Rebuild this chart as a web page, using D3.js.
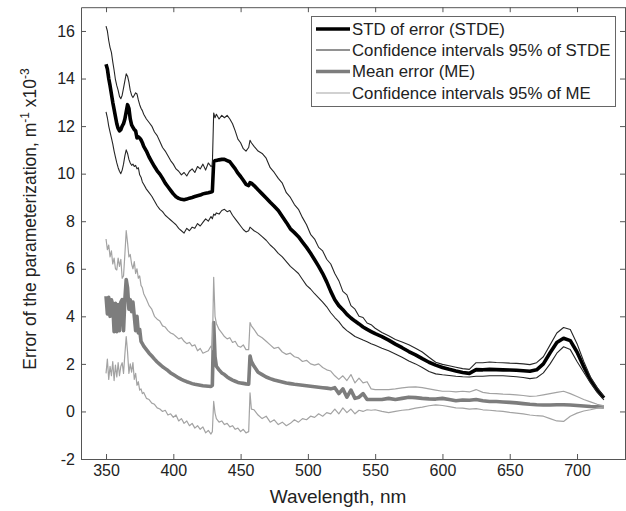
<!DOCTYPE html>
<html>
<head>
<meta charset="utf-8">
<script src="https://cdn.jsdelivr.net/npm/d3@7"></script>
<style>
  html, body { margin: 0; padding: 0; background: #fff; }
  svg { display: block; font-family: "Liberation Sans", Arial, sans-serif; }
</style>
</head>
<body>
<div id="chart"></div>
<script>
// wavelength grid, nm (finer where the curves jump)
const wavelength = [
  350,351,352,353,354,355,356,357,358,359,360,361,362,363,364,365,366,367,368,369,370,371,372,373,374,375,376,377,378,
  380,382,384,386,388,390,392,394,396,398,400,402,404,406,408,410,412,414,416,418,420,422,424,426,428,
  429,430,431,
  432,434,436,438,440,442,444,446,448,450,452,454,456,
  457,458,
  460,463,466,469,472,475,478,481,484,487,490,493,496,499,502,505,508,511,514,517,520,523,526,529,532,535,538,541,544,547,550,
  555,560,565,570,575,580,585,590,595,600,605,610,615,620,625,630,635,640,645,650,655,660,665,670,675,680,685,690,695,700,705,710,715,720
];

// STD of error (STDE)
const stde = [
  14.6,14.4,14.0,13.7,13.35,13.0,12.7,12.4,12.1,11.9,11.8,11.85,12.0,12.1,12.3,12.6,12.9,12.75,12.3,12.05,11.95,11.85,11.8,11.5,11.55,11.5,11.42,11.3,11.15,
  10.95,10.7,10.5,10.3,10.12,9.98,9.8,9.6,9.45,9.3,9.15,9.03,8.96,8.92,8.9,8.93,8.97,9.0,9.04,9.07,9.1,9.15,9.18,9.2,9.23,
  9.25,10.5,10.55,
  10.55,10.58,10.6,10.6,10.55,10.5,10.35,10.2,10.02,9.88,9.72,9.55,9.5,
  9.62,9.6,
  9.5,9.32,9.15,8.98,8.8,8.63,8.45,8.2,7.95,7.68,7.52,7.35,7.12,6.9,6.65,6.38,6.1,5.8,5.45,5.05,4.7,4.45,4.28,4.08,3.93,3.8,3.68,3.55,3.45,3.36,3.27,
  3.15,3.0,2.83,2.68,2.52,2.38,2.22,2.07,1.95,1.85,1.77,1.7,1.64,1.6,1.76,1.75,1.77,1.76,1.75,1.74,1.73,1.71,1.69,1.75,2.0,2.47,2.9,3.08,2.98,2.5,1.88,1.32,0.9,0.57
];

// confidence intervals 95% of STDE
const stdeUpper = [
  16.2,16.0,15.6,15.3,15.1,14.7,14.35,13.95,13.7,13.5,13.25,13.15,13.3,13.6,13.9,14.2,14.1,13.85,13.5,13.3,13.2,13.3,13.4,13.35,13.1,12.9,12.75,12.65,12.5,
  12.3,12.15,12.0,11.75,11.6,11.35,11.1,10.95,10.75,10.55,10.4,10.2,10.1,9.95,10.05,9.9,10.1,10.2,10.05,10.3,10.2,10.4,10.15,10.45,10.3,
  10.35,12.55,12.35,
  12.5,12.3,12.45,12.35,12.45,12.3,12.1,11.8,11.45,11.3,11.05,10.95,11.1,
  11.4,11.3,
  11.15,10.95,10.85,10.65,10.25,10.05,9.8,9.6,9.2,9.0,8.7,8.5,8.15,7.85,7.45,7.25,6.9,6.75,6.4,6.2,5.8,5.5,5.05,4.9,4.45,4.3,4.0,3.95,3.72,3.65,3.5,
  3.32,3.18,3.03,2.92,2.8,2.66,2.5,2.28,2.07,1.98,1.92,1.86,1.8,1.77,2.05,2.05,2.08,2.06,2.05,2.03,2.02,2.0,1.97,2.05,2.3,2.8,3.3,3.53,3.45,2.85,2.1,1.45,1.0,0.63
];
const stdeLower = [
  12.6,12.35,12.0,11.75,11.5,11.25,10.95,10.7,10.45,10.25,10.1,10.0,10.15,10.4,10.75,11.0,10.85,10.6,10.45,10.35,10.4,10.3,10.35,10.2,10.25,9.95,9.85,9.65,9.55,
  9.35,9.2,9.05,8.85,8.65,8.5,8.4,8.25,8.15,8.05,7.95,7.85,7.7,7.6,7.5,7.7,7.6,7.75,7.7,7.9,7.8,7.95,8.1,8.0,8.2,
  8.1,8.3,8.25,
  8.35,8.3,8.45,8.5,8.4,8.45,8.25,8.1,7.95,7.8,7.65,7.55,7.6,
  7.75,7.7,
  7.6,7.5,7.35,7.2,7.0,6.85,6.65,6.5,6.3,6.1,5.95,5.8,5.55,5.3,5.15,4.95,4.78,4.6,4.4,4.15,3.95,3.78,3.55,3.4,3.28,3.15,3.08,3.0,2.93,2.85,2.78,
  2.66,2.55,2.42,2.28,2.12,2.0,1.85,1.68,1.58,1.54,1.51,1.48,1.46,1.45,1.48,1.48,1.5,1.5,1.5,1.48,1.46,1.43,1.38,1.42,1.62,2.0,2.45,2.72,2.6,2.1,1.65,1.2,0.8,0.49
];

// Mean error (ME)
const meanError = [
  4.85,4.1,4.8,4.0,4.7,4.5,3.35,4.55,3.35,4.5,3.4,4.6,4.7,3.4,4.7,5.55,5.2,4.3,4.7,4.2,4.6,4.0,3.4,4.0,3.3,3.45,2.95,2.85,2.75,
  2.6,2.45,2.33,2.2,2.08,1.98,1.88,1.8,1.72,1.62,1.55,1.48,1.41,1.35,1.3,1.25,1.21,1.17,1.14,1.12,1.1,1.08,1.07,1.06,1.05,
  1.1,3.74,2.3,
  1.9,1.75,1.62,1.55,1.45,1.38,1.32,1.27,1.22,1.2,1.18,1.16,1.15,
  2.33,2.1,
  1.9,1.65,1.55,1.45,1.38,1.32,1.28,1.24,1.2,1.17,1.14,1.12,1.1,1.08,1.06,1.04,1.02,1.0,0.98,0.95,1.0,0.75,0.95,0.6,0.9,0.55,0.6,0.75,0.5,0.5,0.5,
  0.5,0.55,0.5,0.55,0.6,0.58,0.55,0.53,0.52,0.55,0.5,0.45,0.48,0.47,0.5,0.45,0.42,0.42,0.4,0.38,0.36,0.33,0.3,0.28,0.27,0.27,0.28,0.28,0.27,0.25,0.23,0.21,0.2,0.19
];

// confidence intervals 95% of ME
const meUpper = [
  7.25,6.8,7.0,6.5,6.75,6.2,6.45,6.0,5.95,6.45,6.1,6.4,5.6,5.7,6.6,7.6,7.1,6.5,6.6,6.2,6.0,6.3,5.8,6.0,5.6,5.7,5.3,5.2,4.95,
  4.72,4.45,4.3,4.0,3.88,3.8,3.6,3.55,3.4,3.3,3.25,3.15,3.05,3.1,2.95,2.85,2.9,2.75,2.8,2.55,2.65,2.45,2.5,2.55,2.75,
  2.6,5.64,4.0,
  3.7,3.45,3.3,3.15,3.05,3.1,2.9,2.95,2.75,2.7,2.8,2.6,2.6,
  3.74,3.6,
  3.45,3.2,3.1,2.95,2.8,2.65,2.7,2.5,2.4,2.45,2.3,2.25,2.1,2.15,2.0,1.95,2.0,1.85,1.75,1.7,1.5,1.35,1.5,1.3,1.55,1.2,1.4,1.2,1.25,0.95,0.92,
  0.92,0.92,0.95,0.99,1.02,1.03,1.0,0.95,0.9,0.85,0.85,0.82,0.85,0.82,0.92,0.8,0.76,0.75,0.73,0.72,0.7,0.67,0.63,0.65,0.7,0.75,0.8,0.85,0.75,0.63,0.5,0.4,0.3,0.24
];
const meLower = [
  1.6,2.2,1.35,1.9,1.5,2.1,1.3,1.95,1.45,2.05,1.5,1.9,2.05,1.6,2.4,3.15,2.5,1.6,2.0,1.65,2.05,1.35,1.6,1.1,1.25,0.9,0.95,0.75,0.8,
  0.55,0.5,0.35,0.3,0.15,0.1,0.0,0.05,-0.15,-0.1,-0.25,-0.15,-0.4,-0.3,-0.5,-0.4,-0.6,-0.5,-0.7,-0.6,-0.75,-0.65,-0.9,-0.8,-0.95,
  -0.85,0.42,-0.07,
  -0.3,-0.45,-0.4,-0.55,-0.5,-0.65,-0.6,-0.75,-0.7,-0.85,-0.75,-0.9,-0.85,
  0.78,0.1,
  0.07,-0.15,-0.3,-0.2,-0.45,-0.35,-0.55,-0.45,-0.6,-0.5,-0.35,-0.45,-0.3,-0.35,-0.2,-0.25,-0.1,-0.2,-0.05,-0.1,0.1,-0.1,0.15,-0.05,0.1,-0.1,0.05,0.0,0.07,0.05,0.07,
  0.0,-0.05,0.0,0.05,0.08,0.14,0.18,0.24,0.28,0.25,0.2,0.15,0.14,0.1,0.12,0.07,0.05,0.02,0.0,-0.04,-0.07,-0.1,-0.15,-0.18,-0.2,-0.3,-0.4,-0.42,-0.2,-0.07,0.02,0.07,0.14,0.19
];

const xTicks = [350, 400, 450, 500, 550, 600, 650, 700];
const yTicks = [-2, 0, 2, 4, 6, 8, 10, 12, 14, 16];
const legendLabels = [
  "STD of error (STDE)",
  "Confidence intervals 95% of STDE",
  "Mean error (ME)",
  "Confidence intervals 95% of ME"
];

[stde, stdeUpper, stdeLower, meanError, meUpper, meLower].forEach((s, i) => {
  if (s.length !== wavelength.length) throw new Error("series " + i + " has " + s.length + " values, expected " + wavelength.length);
});

const W = 626, H = 511;
const plotLeft = 81, plotRight = 626, plotTop = 7.2, plotBottom = 459;

const x = d3.scaleLinear().domain([331.4, 736.4]).range([plotLeft, plotRight]);
const y = d3.scaleLinear().domain([-2, 17]).range([plotBottom, plotTop]);

const svg = d3.select("#chart").append("svg")
  .attr("width", W)
  .attr("height", H);

svg.append("rect").attr("width", W).attr("height", H).attr("fill", "#fff");

svg.append("defs").append("clipPath").attr("id", "plotArea")
  .append("rect")
  .attr("x", plotLeft).attr("y", plotTop)
  .attr("width", plotRight - plotLeft).attr("height", plotBottom - plotTop);

// styles follow legend order
const styles = [
  { color: "#000", width: 3.6 },   // STDE
  { color: "#262626", width: 1.1 }, // CI of STDE
  { color: "#7d7d7d", width: 3.6 }, // ME
  { color: "#a3a3a3", width: 1.2 }  // CI of ME
];

const series = [
  { values: stde, style: styles[0] },
  { values: stdeUpper, style: styles[1] },
  { values: stdeLower, style: styles[1] },
  { values: meanError, style: styles[2] },
  { values: meUpper, style: styles[3] },
  { values: meLower, style: styles[3] }
];

const line = d3.line()
  .x((d, i) => x(wavelength[i]))
  .y(d => y(d));

const plot = svg.append("g").attr("clip-path", "url(#plotArea)");
series.forEach(s => {
  plot.append("path")
    .datum(s.values)
    .attr("d", line)
    .attr("fill", "none")
    .attr("stroke", s.style.color)
    .attr("stroke-width", s.style.width)
    .attr("stroke-linejoin", "round");
});

// axes, MATLAB-like box with inward ticks
const axisColor = "#555";
const textColor = "#222";

const xAxis = svg.append("g")
  .attr("transform", `translate(0,${plotBottom})`)
  .call(d3.axisBottom(x).tickValues(xTicks).tickSizeInner(-5).tickSizeOuter(0).tickPadding(6));
const yAxis = svg.append("g")
  .attr("transform", `translate(${plotLeft},0)`)
  .call(d3.axisLeft(y).tickValues(yTicks).tickSizeInner(-5).tickSizeOuter(0).tickPadding(6)
    .tickFormat(d => String(d)));
const xTop = svg.append("g")
  .attr("transform", `translate(0,${plotTop})`)
  .call(d3.axisTop(x).tickValues(xTicks).tickSizeInner(-5).tickSizeOuter(0).tickFormat(""));
const yRight = svg.append("g")
  .attr("transform", `translate(${plotRight - 1},0)`)
  .call(d3.axisRight(y).tickValues(yTicks).tickSizeInner(-5).tickSizeOuter(0).tickFormat(""));

[xAxis, yAxis, xTop, yRight].forEach(g => {
  g.selectAll("path, line").attr("stroke", axisColor);
  g.selectAll("text")
    .attr("fill", textColor)
    .style("font-size", "16px")
    .style("font-family", "'Liberation Sans', Arial, sans-serif");
});

// axis titles
svg.append("text")
  .attr("x", 338)
  .attr("y", 503)
  .attr("text-anchor", "middle")
  .attr("fill", textColor)
  .style("font-size", "19px")
  .text("Wavelength, nm");

const yTitle = svg.append("text")
  .attr("transform", "translate(36,219) rotate(-90)")
  .attr("text-anchor", "middle")
  .attr("fill", textColor)
  .style("font-size", "17.5px");
yTitle.append("tspan").text("Error of the parameterization, m");
yTitle.append("tspan").attr("dy", -7).style("font-size", "12px").text("-1");
yTitle.append("tspan").attr("dy", 7).text(" x10");
yTitle.append("tspan").attr("dy", -7).style("font-size", "12px").text("-3");

// legend
const legend = svg.append("g");
legend.append("rect")
  .attr("x", 311.5).attr("y", 16.5)
  .attr("width", 304).attr("height", 90)
  .attr("fill", "#fff")
  .attr("stroke", "#666")
  .attr("stroke-width", 1);

const legendY = [29, 50, 71.5, 93];
legendLabels.forEach((label, i) => {
  legend.append("line")
    .attr("x1", 316).attr("x2", 350)
    .attr("y1", legendY[i]).attr("y2", legendY[i])
    .attr("stroke", styles[i].color)
    .attr("stroke-width", styles[i].width);
  legend.append("text")
    .attr("x", 352)
    .attr("y", legendY[i])
    .attr("dy", "0.35em")
    .attr("fill", textColor)
    .style("font-size", "16.8px")
    .text(label);
});
</script>
</body>
</html>
